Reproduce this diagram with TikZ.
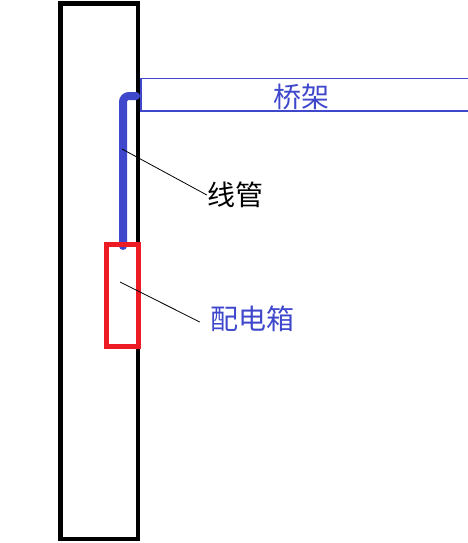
\documentclass[tikz,border=0pt]{standalone}
\usepackage{fontspec}
\usepackage{xcolor}
\usepackage{tikz}
\newfontfamily\cjk{Noto Sans CJK SC}
\definecolor{trayblue}{RGB}{63,72,204}
\definecolor{boxred}{RGB}{237,28,36}
\tikzstyle{wall} = [rectangle, minimum width=77.5pt, minimum height=535.5pt, inner sep=0pt, draw=black, line width=4.5pt]
\tikzstyle{box} = [rectangle, minimum width=32pt, minimum height=102pt, inner sep=0pt, draw=boxred, line width=5pt]
\tikzstyle{label} = [font=\cjk\fontsize{28}{30}\selectfont, inner sep=0pt]
\tikzstyle{leader} = [black, line width=0.8pt]
\tikzstyle{pipe} = [trayblue, line width=8pt, line cap=round, rounded corners=6pt]
\tikzstyle{tray} = [trayblue, line width=1.2pt]

\begin{document}
\begin{tikzpicture}[x=1pt, y=-1pt]
\useasboundingbox (0,0) rectangle (468,543);

\node (wall) [wall] at (99.25,271.25) {};
\node (tray) [label, text=trayblue] at (301,97) {桥架};
\node (conduit) [label] at (235,195) {线管};
\node (panel) [label, text=trayblue] at (252,319) {配电箱};

\draw [tray] (468,78.5) -- (141,78.5) -- (141,111) -- (468,111);

\coordinate (pipebend) at (123,96);
\coordinate (pipeend) at (136,96);
\coordinate (pipebot) at (123,246);
\draw [pipe] (pipebot) -- (pipebend) -- (pipeend);

\node (box) [box] at (122,295.5) {};

\coordinate (conduitpt) at (122,149);
\coordinate (panelpt) at (120,282);
\draw [leader] (conduitpt) -- (conduit.west);
\draw [leader] (panelpt) -- ([xshift=-10pt,yshift=-3pt]panel.west);

\end{tikzpicture}
\end{document}
